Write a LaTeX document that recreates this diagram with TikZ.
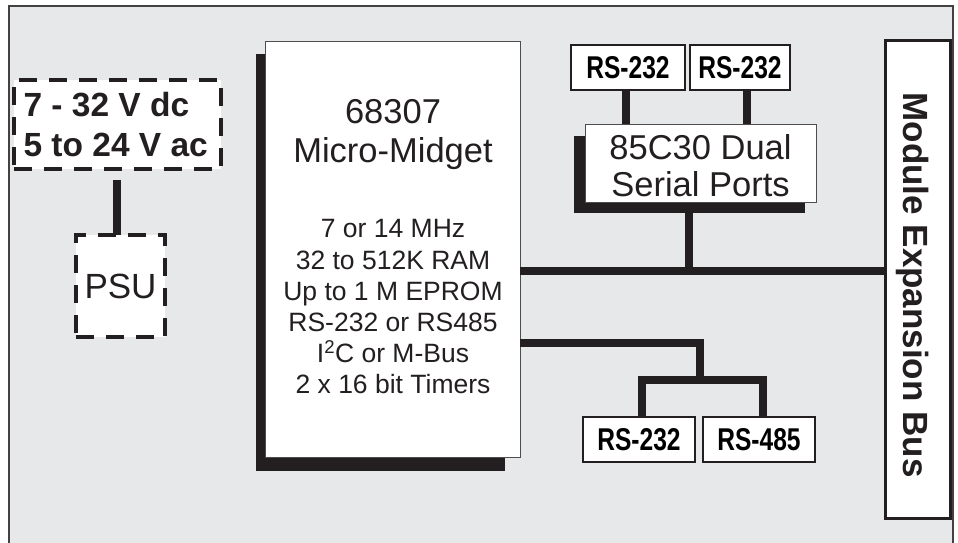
\documentclass[tikz,border=0pt]{standalone}
\usepackage{fontspec}
\setmainfont{Liberation Sans}
\newfontfamily\condbold[FakeStretch=0.78]{Liberation Sans Bold}
\usetikzlibrary{calc}
\definecolor{bg}{HTML}{E7E8EA}
\definecolor{ink}{HTML}{231F20}
\tikzset{
  bus/.style={line width=8pt, draw=ink},
  shadowbox/.style={fill=ink, draw=none},
  whitebox/.style={fill=white, draw=ink!80, line width=0.8pt},
  dashbox/.style={fill=white, draw=ink, line width=3.5pt, dash pattern=on 18pt off 12pt},
  rsbox/.style={fill=white, draw=ink, line width=2.5pt, inner sep=0pt, font=\condbold\fontsize{31.5}{31.5}\selectfont},
  bigtxt/.style={font=\fontsize{34.5}{39}\selectfont, align=center, text=ink},
  smalltxt/.style={font=\fontsize{26.5}{31.2}\selectfont, align=center, text=ink},
}
\begin{document}
\begin{tikzpicture}[x=1pt,y=-1pt]
\useasboundingbox (0,0) rectangle (958,542);
% frame
\fill[bg] (9,6) rectangle (953,545);
\draw[ink!85, line width=1.6pt] (9,545) -- (9,6) -- (953,6) -- (953,545);

% power
\node[dashbox, minimum width=207pt, minimum height=89pt, inner sep=0pt] (vin) at (117.5,124.5) {};
\node[font=\bfseries\fontsize{33.5}{40}\selectfont, align=left, text=ink, anchor=west] (vintxt) at (20,125) {7 - 32 V dc\\5 to 24 V ac};
\node[dashbox, minimum width=89pt, minimum height=102pt, inner sep=0pt] (psu) at (120.5,286) {};
\node[font=\fontsize{35}{35}\selectfont, text=ink] (psutxt) at (psu.center) {PSU};
\draw[bus] ([yshift=-9pt]vin.south -| 117,0) -- (117,235);

% main processor
\fill[shadowbox] (256,54) rectangle (505,471);
\node[whitebox, minimum width=255pt, minimum height=416pt, inner sep=0pt] (main) at (392.5,249) {};
\node[bigtxt] (title) at (393,135) {68307\\Micro-Midget};
\node[smalltxt] (spec) at (393,307) {7 or 14 MHz\\32 to 512K RAM\\Up to 1 M EPROM\\RS-232 or RS485\\I\textsuperscript{2}C or M-Bus\\2 x 16 bit Timers};

% module expansion bus
\node[fill=white, draw=ink, line width=3pt, minimum width=65pt, minimum height=478pt, inner sep=0pt] (mod) at (917.5,279) {};
\node[rotate=-90, font=\bfseries\fontsize{35}{35}\selectfont, text=ink] (modtxt) at (913,285) {Module Expansion Bus};

% 85C30
\fill[shadowbox] (574,136) rectangle (805,213);
\node[whitebox, minimum width=231pt, minimum height=78pt, inner sep=0pt] (scc) at (700.5,163) {};
\node[bigtxt, font=\fontsize{34.5}{37}\selectfont] (scctxt) at (700.5,166) {85C30 Dual\\Serial Ports};

% top RS-232 boxes
\node[rsbox, minimum width=114pt, minimum height=45pt] (ta) at (628,67.5) {RS-232};
\node[rsbox, minimum width=100pt, minimum height=45pt] (tb) at (740,67.5) {RS-232};
\draw[bus] (ta.south -| 626,0) -- (626,124);
\draw[bus] (tb.south -| 747,0) -- (747,124);

% bottom boxes
\node[rsbox, minimum width=112pt, minimum height=45pt] (ba) at (639,439.5) {RS-232};
\node[rsbox, minimum width=112pt, minimum height=45pt] (bb) at (759,439.5) {RS-485};

% buses
\coordinate (j1) at (689,271);
\draw[bus] (main.east |- j1) -- (mod.west |- j1);
\draw[bus] (689,213) -- (j1);
\coordinate (j2) at (700,343);
\coordinate (j3) at (700,380);
\draw[bus] (main.east |- j2) -- (j2) -- (j3);
\draw[bus] (ba.north -| 642,0) -- (642,380) -- (763,380) -- (bb.north -| 763,0);
\end{tikzpicture}
\end{document}
